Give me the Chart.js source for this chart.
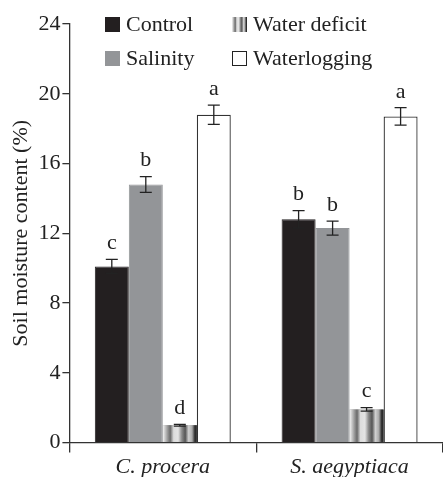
<!DOCTYPE html>
<html>
<head>
<meta charset="utf-8">
<script src="https://cdn.jsdelivr.net/npm/chart.js@4.4.0/dist/chart.umd.min.js"></script>
<style>
  body { margin: 0; background: #fff; }
  #wrap { position: relative; width: 443px; height: 477px; overflow: hidden; }
  .legend { position: absolute; font-family: "Liberation Serif", serif; font-size: 22px; color: #222; display: flex; align-items: center; }
  .legend span.box { display: inline-block; width: 15px; height: 15px; margin-right: 6px; box-sizing: border-box; }
</style>
</head>
<body>
<div id="wrap">
  <canvas id="chart" width="443" height="477"></canvas>
  <div class="legend" style="left:105px; top:11px;"><span class="box" style="background:#231f20"></span>Control</div>
  <div class="legend" style="left:232px; top:11px;"><span class="box" id="wdBox"></span>Water deficit</div>
  <div class="legend" style="left:105px; top:45px;"><span class="box" style="background:#939598"></span>Salinity</div>
  <div class="legend" style="left:232px; top:45px;"><span class="box" style="background:#fff;border:1px solid #222"></span>Waterlogging</div>
</div>
<script>
  // Data
  const species = ["C. procera", "S. aegyptiaca"];
  const treatments = ["Control", "Salinity", "Water deficit", "Waterlogging"];
  const controlVals = [10.1, 12.8];
  const salinityVals = [14.8, 12.3];
  const deficitVals = [1.0, 1.9];
  const waterlogVals = [18.8, 18.7];
  const controlErr = [0.4, 0.5];
  const salinityErr = [0.45, 0.4];
  const deficitErr = [0.05, 0.1];
  const waterlogErr = [0.55, 0.5];
  const controlLetters = ["c", "b"];
  const salinityLetters = ["b", "b"];
  const deficitLetters = ["d", "c"];
  const waterlogLetters = ["a", "a"];
  const yTicks = [0, 4, 8, 12, 16, 20, 24];

  const serif = "'Liberation Serif', 'DejaVu Serif', serif";
  const errs = [controlErr, salinityErr, deficitErr, waterlogErr];
  const letters = [controlLetters, salinityLetters, deficitLetters, waterlogLetters];

  // striped shading used for the water deficit bars
  function stripeGradient(ctx, x0, x1) {
    const g = ctx.createLinearGradient(x0, 0, x1, 0);
    g.addColorStop(0, "#f4f4f4");
    g.addColorStop(0.14, "#9a9a9a");
    g.addColorStop(0.22, "#6a6a6a");
    g.addColorStop(0.32, "#dcdcdc");
    g.addColorStop(0.45, "#e4e4e4");
    g.addColorStop(0.56, "#8a8a8a");
    g.addColorStop(0.66, "#555");
    g.addColorStop(0.76, "#d0d0d0");
    g.addColorStop(0.86, "#aaa");
    g.addColorStop(0.94, "#333");
    g.addColorStop(1, "#222");
    return g;
  }

  // legend swatch for water deficit
  (function () {
    const c = document.createElement("canvas");
    c.width = 15; c.height = 15;
    const cx = c.getContext("2d");
    cx.fillStyle = stripeGradient(cx, 0, 15);
    cx.fillRect(0, 0, 15, 15);
    document.getElementById("wdBox").style.background = "url(" + c.toDataURL() + ")";
  })();

  // repaint the water deficit bars with the stripe shading
  const stripePlugin = {
    id: "stripes",
    afterDatasetDraw(chart, args) {
      if (args.index !== 2) return;
      const ctx = chart.ctx;
      args.meta.data.forEach((bar) => {
        const x0 = bar.x - bar.width / 2, x1 = bar.x + bar.width / 2;
        ctx.save();
        ctx.fillStyle = stripeGradient(ctx, x0, x1);
        ctx.fillRect(x0, bar.y, bar.width, bar.base - bar.y);
        ctx.restore();
      });
    }
  };

  // error bars and significance letters
  const errorPlugin = {
    id: "errors",
    afterDatasetsDraw(chart) {
      const ctx = chart.ctx;
      const y = chart.scales.y;
      chart.data.datasets.forEach((ds, di) => {
        chart.getDatasetMeta(di).data.forEach((bar, i) => {
          const v = ds.data[i], e = errs[di][i];
          const top = y.getPixelForValue(v + e), bot = y.getPixelForValue(v - e);
          ctx.save();
          ctx.strokeStyle = "#222";
          ctx.lineWidth = 1.3;
          ctx.beginPath();
          ctx.moveTo(bar.x, top); ctx.lineTo(bar.x, bot);
          ctx.moveTo(bar.x - 6, top); ctx.lineTo(bar.x + 6, top);
          ctx.moveTo(bar.x - 6, bot); ctx.lineTo(bar.x + 6, bot);
          ctx.stroke();
          ctx.fillStyle = "#222";
          ctx.font = "22px " + serif;
          ctx.textAlign = "center";
          ctx.textBaseline = "bottom";
          ctx.fillText(letters[di][i], bar.x, top - 5);
          ctx.restore();
        });
      });
    }
  };

  new Chart(document.getElementById("chart"), {
    type: "bar",
    data: {
      labels: species,
      datasets: [
        { label: treatments[0], data: controlVals, backgroundColor: "#231f20", borderColor: "#231f20", borderWidth: 1 },
        { label: treatments[1], data: salinityVals, backgroundColor: "#939598", borderColor: "#939598", borderWidth: 1 },
        { label: treatments[2], data: deficitVals, backgroundColor: "#999", borderWidth: 0 },
        { label: treatments[3], data: waterlogVals, backgroundColor: "#fff", borderColor: "#333", borderWidth: 1.3 }
      ]
    },
    options: {
      responsive: false,
      animation: false,
      layout: { padding: { top: 24, right: -9, left: 4, bottom: -4 } },
      categoryPercentage: 0.728,
      barPercentage: 1.0,
      plugins: { legend: { display: false }, tooltip: { enabled: false } },
      scales: {
        x: {
          grid: { drawOnChartArea: false, drawTicks: true, tickLength: 10, color: "#333", lineWidth: 1.3, offset: true },
          border: { color: "#333", width: 1.3 },
          ticks: { color: "#222", padding: 1, font: { family: serif, size: 22, style: "italic" } }
        },
        y: {
          min: 0, max: 24,
          afterBuildTicks: (s) => { s.ticks = yTicks.map((v) => ({ value: v })); },
          grid: { drawOnChartArea: false, drawTicks: true, tickLength: 7, color: "#333", lineWidth: 1.3 },
          border: { color: "#333", width: 1.3 },
          ticks: { color: "#222", padding: 2, font: { family: serif, size: 22 } },
          title: { display: true, text: "Soil moisture content (%)", color: "#222", padding: { bottom: 2 }, font: { family: serif, size: 22 } }
        }
      }
    },
    plugins: [stripePlugin, errorPlugin]
  });
</script>
</body>
</html>
